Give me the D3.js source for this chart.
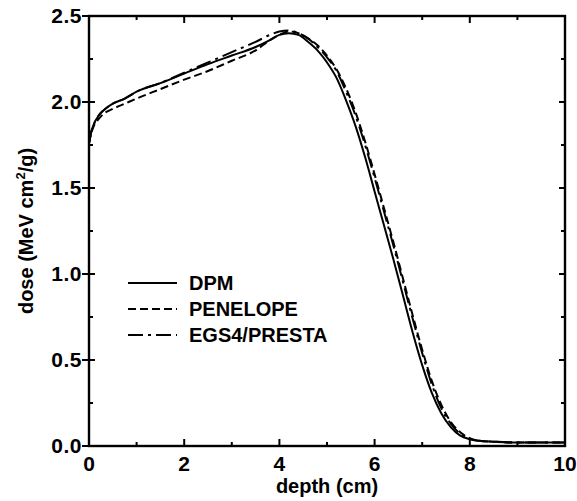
<!DOCTYPE html>
<html>
<head>
<meta charset="utf-8">
<script src="https://cdn.jsdelivr.net/npm/d3@7"></script>
<style>
  body { margin: 0; background: #fff; }
  text { font-family: "Liberation Sans", Arial, sans-serif; font-weight: bold; fill: #000; }
</style>
</head>
<body>
<div id="chart"></div>
<script>

// depth grid (cm) shared by the three codes
var depth = [0, 0.05, 0.1, 0.2, 0.3, 0.5, 0.75, 1, 1.5, 2, 2.5, 3, 3.5, 3.8, 4.0, 4.2, 4.4, 4.6, 4.8, 5.0,
             5.2, 5.4, 5.6, 5.8, 6.0, 6.2, 6.4, 6.6, 6.8, 7.0, 7.2, 7.4, 7.6, 7.8, 8.0, 8.2, 8.5, 9, 9.5, 10];

// dose (MeV cm2/g)
var dpm      = [1.76, 1.83, 1.87, 1.92, 1.95, 1.99, 2.02, 2.06, 2.11, 2.165, 2.22, 2.27, 2.32, 2.36, 2.39, 2.40, 2.39, 2.35, 2.30, 2.23,
                2.14, 2.01, 1.86, 1.68, 1.48, 1.28, 1.08, 0.87, 0.66, 0.47, 0.31, 0.19, 0.11, 0.06, 0.04, 0.03, 0.025, 0.02, 0.02, 0.02];
var penelope = [1.76, 1.82, 1.86, 1.90, 1.93, 1.96, 1.99, 2.02, 2.075, 2.13, 2.18, 2.24, 2.30, 2.36, 2.39, 2.41, 2.40, 2.37, 2.33, 2.27,
                2.19, 2.08, 1.94, 1.77, 1.58, 1.38, 1.18, 0.97, 0.76, 0.56, 0.38, 0.24, 0.14, 0.08, 0.045, 0.03, 0.025, 0.02, 0.02, 0.02];
var egs4     = [1.76, 1.83, 1.87, 1.92, 1.95, 1.99, 2.02, 2.06, 2.11, 2.17, 2.23, 2.29, 2.35, 2.39, 2.41, 2.415, 2.40, 2.37, 2.32, 2.26,
                2.18, 2.06, 1.92, 1.75, 1.56, 1.36, 1.16, 0.95, 0.74, 0.54, 0.36, 0.22, 0.13, 0.07, 0.04, 0.03, 0.025, 0.02, 0.02, 0.02];

var seriesNames = ["DPM", "PENELOPE", "EGS4/PRESTA"];
var seriesDash  = [null, "8,4", "15,5,3,5"];

var xTicks = [0, 2, 4, 6, 8, 10];
var xMinor = [1, 3, 5, 7, 9];
var yTicks = [0, 0.5, 1.0, 1.5, 2.0, 2.5];
var yMinor = [0.25, 0.75, 1.25, 1.75, 2.25];

//====================================================================================

var W = 577, H = 501;
var margin = {top: 16, right: 12, bottom: 55, left: 89};
var width = W - margin.left - margin.right,
    height = H - margin.top - margin.bottom;

var svg = d3.select("#chart").append("svg")
    .attr("width", W)
    .attr("height", H)
  .append("g")
    .attr("transform", "translate(" + margin.left + "," + margin.top + ")");

var x = d3.scaleLinear().domain([0, 10]).range([0, width]);
var y = d3.scaleLinear().domain([0, 2.5]).range([height, 0]);

// curves
var all = [dpm, penelope, egs4];
var line = d3.line()
    .x(function(d, i) { return x(depth[i]); })
    .y(function(d) { return y(d); })
    .curve(d3.curveMonotoneX);

all.forEach(function(s, k) {
  svg.append("path")
      .attr("d", line(s))
      .attr("fill", "none")
      .attr("stroke", "#000")
      .attr("stroke-width", 2)
      .attr("stroke-dasharray", seriesDash[k]);
});

// frame
svg.append("rect")
    .attr("width", width).attr("height", height)
    .attr("fill", "none").attr("stroke", "#000").attr("stroke-width", 2.4);

// ticks (inward, y major ones cross the axis)
function tick(x1, y1, x2, y2) {
  svg.append("line").attr("x1", x1).attr("y1", y1).attr("x2", x2).attr("y2", y2)
     .attr("stroke", "#000").attr("stroke-width", 2);
}
xTicks.forEach(function(t) { tick(x(t), height, x(t), height - 7); tick(x(t), 0, x(t), 7); });
xMinor.forEach(function(t) { tick(x(t), height, x(t), height - 4); tick(x(t), 0, x(t), 4); });
yTicks.forEach(function(t) { tick(-7, y(t), 6, y(t)); tick(width, y(t), width - 6, y(t)); });
yMinor.forEach(function(t) { tick(0, y(t), 4, y(t)); tick(width, y(t), width - 4, y(t)); });

// tick labels
svg.selectAll("text.xl").data(xTicks).enter().append("text")
    .attr("class", "xl")
    .attr("x", function(d) { return x(d); })
    .attr("y", height + 25)
    .attr("text-anchor", "middle")
    .style("font-size", "21px")
    .text(function(d) { return d; });

svg.selectAll("text.yl").data(yTicks).enter().append("text")
    .attr("class", "yl")
    .attr("x", -7)
    .attr("y", function(d) { return y(d) + 7; })
    .attr("text-anchor", "end")
    .style("font-size", "21px")
    .style("letter-spacing", "0.5px")
    .text(function(d) { return d3.format(".1f")(d); });

// axis titles
svg.append("text")
    .attr("x", width / 2)
    .attr("y", height + 47)
    .attr("text-anchor", "middle")
    .style("font-size", "20px")
    .text("depth (cm)");

var yt = svg.append("text")
    .attr("transform", "translate(" + (33 - margin.left) + "," + (height / 2) + ") rotate(-90)")
    .attr("text-anchor", "middle")
    .style("font-size", "20px");
yt.append("tspan").text("dose (MeV cm");
yt.append("tspan").attr("dy", -8).style("font-size", "13px").text("2");
yt.append("tspan").attr("dy", 8).text("/g)");

// legend
var legend = svg.append("g").attr("transform", "translate(" + (128 - margin.left) + "," + (283 - margin.top) + ")");
seriesNames.forEach(function(name, k) {
  legend.append("line")
      .attr("x1", 0).attr("x2", 49)
      .attr("y1", k * 26).attr("y2", k * 26)
      .attr("stroke", "#000").attr("stroke-width", 2)
      .attr("stroke-dasharray", seriesDash[k]);
  legend.append("text")
      .attr("x", 61)
      .attr("y", k * 26 + 7)
      .style("font-size", "20px")
      .text(name);
});

</script>
</body>
</html>
